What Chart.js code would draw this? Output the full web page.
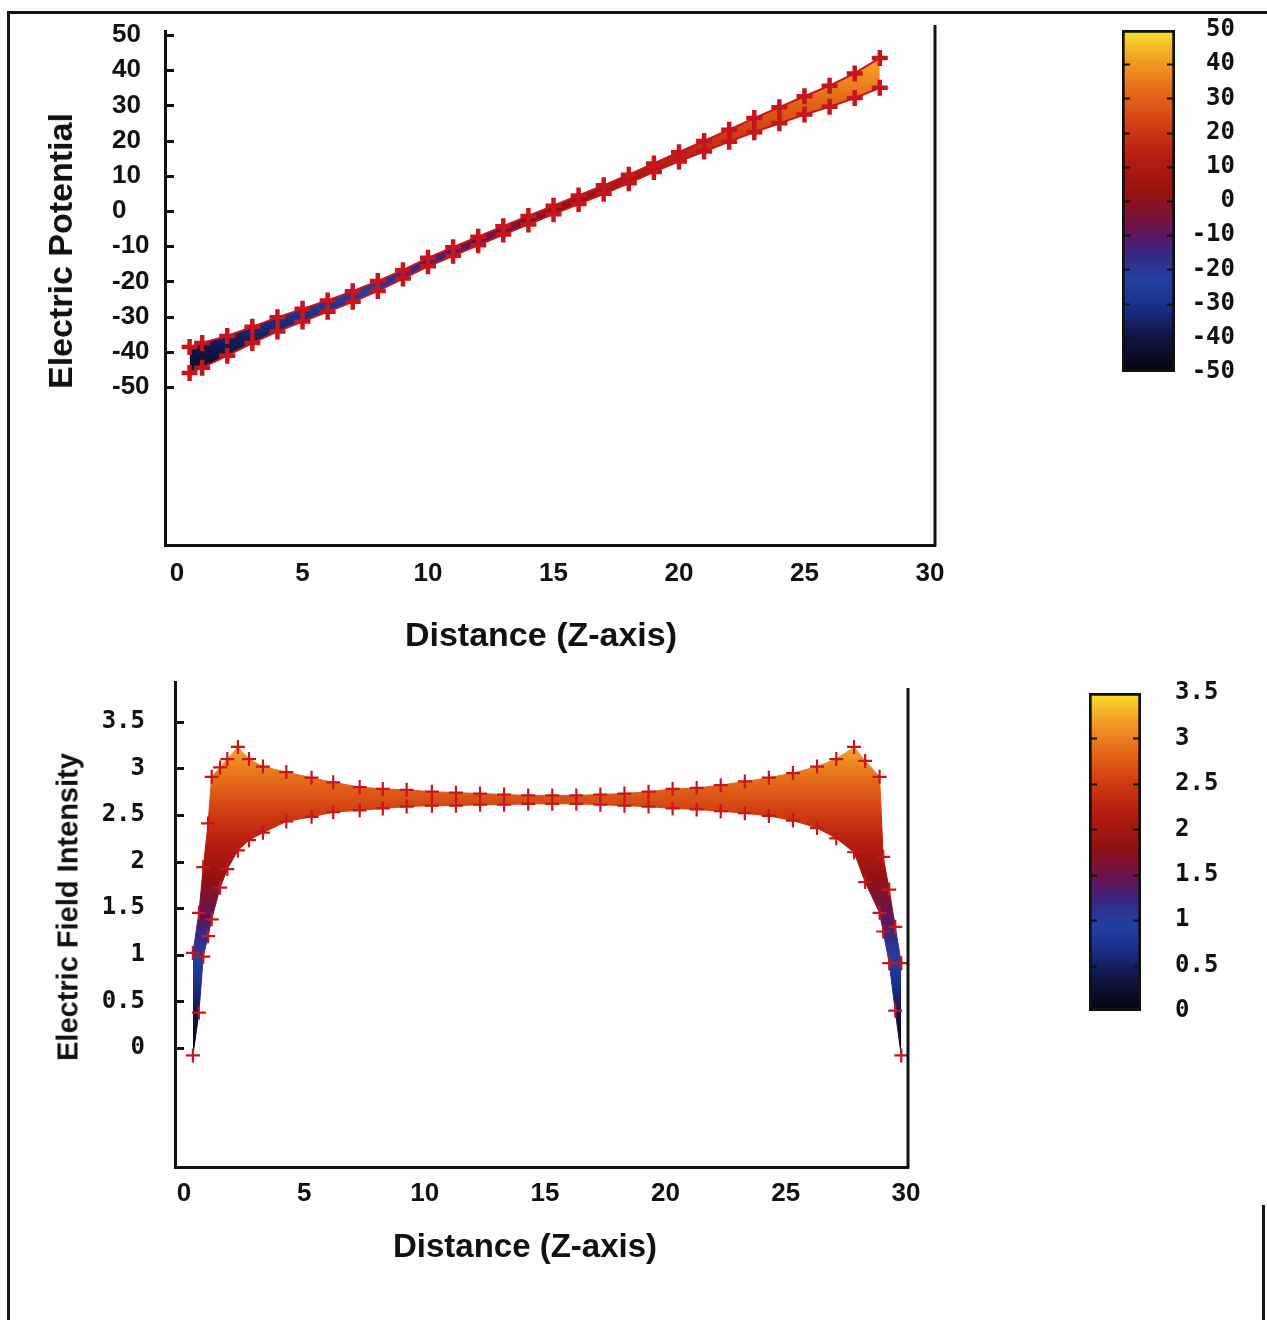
<!DOCTYPE html>
<html>
<head>
<meta charset="utf-8">
<title>Electric potential and field intensity along the Z-axis</title>
<script src="https://cdn.jsdelivr.net/npm/chart.js@4.4.0/dist/chart.umd.min.js"></script>
<style>
  body { margin: 0; background: #fff; }
  #page { position: relative; width: 1267px; height: 1320px; overflow: hidden; background: #fefefe; }
  #page canvas { position: absolute; }
  .frame { position: absolute; left: 7px; top: 11px; width: 1258px; height: 1320px;
           border-left: 3px solid #151515; border-top: 3px solid #151515; }
  .edge { position: absolute; left: 1262px; top: 1205px; width: 3px; height: 115px; background: #151515; }
  .ttl { position: absolute; font-family: "Liberation Sans", Arial, sans-serif; font-weight: bold;
         color: #111; white-space: nowrap; line-height: 1; transform: translate(-50%, -50%); }
  .ttl.rot { transform: translate(-50%, -50%) rotate(-90deg); }
</style>
</head>
<body>
<div id="page">
  <div class="frame"></div>
  <div class="edge"></div>

  <canvas id="potChart" width="960" height="680" style="left:0;top:0"></canvas>
  <canvas id="potBar" width="157" height="410" style="left:1110px;top:0"></canvas>
  <canvas id="fieldChart" width="960" height="680" style="left:0;top:640px"></canvas>
  <canvas id="fieldBar" width="197" height="420" style="left:1070px;top:640px"></canvas>

  <div class="ttl rot" style="left:60px;top:251px;font-size:34px">Electric Potential</div>
  <div class="ttl" style="left:541px;top:634px;font-size:34px">Distance (Z-axis)</div>
  <div class="ttl rot" style="left:68px;top:907px;font-size:29px">Electric Field Intensity</div>
  <div class="ttl" style="left:525px;top:1245px;font-size:33px">Distance (Z-axis)</div>
</div>

<script>
// tick labels
const distTicks = [0, 5, 10, 15, 20, 25, 30];
const potTicks = [-50, -40, -30, -20, -10, 0, 10, 20, 30, 40, 50];
const fieldTicks = [0, 0.5, 1, 1.5, 2, 2.5, 3, 3.5];

// electric potential band (upper / lower edge) along z
const zPot = [0.5, 1, 2, 3, 4, 5, 6, 7, 8, 9, 10, 11, 12, 13, 14, 15, 16, 17, 18, 19, 20, 21, 22, 23, 24, 25, 26, 27, 28];
const potUpper = [-38.6, -37.5, -35.5, -32.9, -30.2, -27.8, -25.4, -22.8, -19.9, -16.8, -13.3, -10.3, -7.3, -4.3, -1.4,
                  1.5, 4.4, 7.3, 10.3, 13.5, 16.7, 19.9, 23.1, 26.4, 29.5, 32.6, 35.6, 39.1, 43.5];
const potLower = [-46, -44.5, -41.1, -37.5, -34.2, -31.4, -28.6, -25.8, -22.7, -19.2, -15.7, -12.7, -9.7, -6.7, -3.8,
                  -0.9, 2.0, 4.9, 7.9, 11.1, 14.1, 16.9, 19.7, 22.4, 24.9, 27.4, 29.6, 32.1, 35.0];

// electric field intensity band (upper / lower edge) along z
const zField = [0.37, 0.62, 0.8, 1.0, 1.15, 1.5, 1.8, 2.24, 2.7, 3.28, 4.25, 5.3, 6.2, 7.3, 8.26, 9.25, 10.3,
                11.3, 12.3, 13.3, 14.3, 15.3, 16.3, 17.3, 18.3, 19.3, 20.3, 21.3, 22.3, 23.3, 24.3, 25.3, 26.3,
                27.1, 27.84, 28.3, 28.9, 29.05, 29.3, 29.55, 29.8];
const fieldUpper = [1.02, 1.45, 1.94, 2.41, 2.91, 3.01, 3.1, 3.23, 3.1, 3.02, 2.96, 2.9, 2.85, 2.8, 2.78, 2.77, 2.75,
                    2.74, 2.73, 2.72, 2.71, 2.71, 2.71, 2.72, 2.73, 2.75, 2.78, 2.79, 2.82, 2.86, 2.9, 2.95, 3.02,
                    3.1, 3.23, 3.08, 2.91, 2.05, 1.7, 1.3, 0.91];
const fieldLower = [-0.08, 0.38, 0.98, 1.2, 1.38, 1.72, 1.92, 2.12, 2.23, 2.31, 2.43, 2.48, 2.53, 2.55, 2.57, 2.59, 2.6,
                    2.6, 2.61, 2.61, 2.62, 2.62, 2.62, 2.61, 2.6, 2.59, 2.57, 2.56, 2.54, 2.52, 2.49, 2.44, 2.36,
                    2.25, 2.1, 1.78, 1.45, 1.25, 0.91, 0.4, -0.08];

// colour ranges of the two palette bars
const potRange = [-50, 50];
const fieldRange = [0, 3.5];

// palette, bottom (0) to top (1)
const paletteStops = [
  [0.00, '#07040b'], [0.10, '#0f1444'], [0.20, '#1b308c'], [0.27, '#2140a2'], [0.34, '#352a86'],
  [0.40, '#5c165c'], [0.46, '#7c1234'], [0.52, '#931210'], [0.62, '#b31c10'], [0.72, '#d03c12'],
  [0.82, '#e66a1a'], [0.91, '#f29c24'], [1.00, '#f8e02c']
];

const ink = '#111';
const markRed = '#c4161c';
const sansTick = { family: '"Liberation Sans", Arial, sans-serif', size: 26, weight: 'bold' };
const monoTick = { family: '"DejaVu Sans Mono", monospace', size: 24, weight: 'bold' };

function toPoints(xs, ys) {
  return xs.map((x, i) => ({ x: x, y: ys[i] }));
}

// vertical gradient that follows the y scale, so colour = value
function paletteFill(range) {
  return function (ctx) {
    const chart = ctx.chart;
    const y = chart.scales.y;
    if (!chart.chartArea || !y) return '#d03c12';
    const g = chart.ctx.createLinearGradient(0, y.getPixelForValue(range[0]), 0, y.getPixelForValue(range[1]));
    paletteStops.forEach(s => g.addColorStop(s[0], s[1]));
    return g;
  };
}

// inward tick marks and the right frame line
const frameTicks = {
  id: 'frameTicks',
  afterDraw(chart, args, opts) {
    const { ctx, chartArea: a } = chart;
    const y = chart.scales.y;
    ctx.save();
    ctx.strokeStyle = ink;
    ctx.lineWidth = opts.width;
    ctx.beginPath();
    y.ticks.forEach(t => {
      if (opts.skipEnds && (t.value === y.min || t.value === y.max)) return;
      const py = Math.round(y.getPixelForValue(t.value)) + 0.5;
      if (opts.left) { ctx.moveTo(a.left, py); ctx.lineTo(a.left + opts.len, py); }
      if (opts.right) { ctx.moveTo(a.right, py); ctx.lineTo(a.right - opts.len, py); }
    });
    if (opts.rightBorder != null) {
      ctx.moveTo(a.right, a.top + opts.rightBorder);
      ctx.lineTo(a.right, a.bottom + 1.5);
    }
    ctx.stroke();
    ctx.restore();
  }
};

const quiet = { legend: { display: false }, tooltip: { enabled: false } };

function edgeSet(label, xs, ys, extra) {
  return Object.assign({
    label: label,
    data: toPoints(xs, ys),
    tension: 0,
    pointStyle: 'cross',
    pointRadius: 7,
    pointBorderColor: markRed,
    pointBackgroundColor: markRed
  }, extra);
}

// ---- top: electric potential ----
new Chart(document.getElementById('potChart'), {
  type: 'line',
  data: {
    datasets: [
      edgeSet('upper', zPot, potUpper, { borderColor: markRed, borderWidth: 2, pointRadius: 8, pointBorderWidth: 4.5, fill: false }),
      edgeSet('lower', zPot, potLower, { borderColor: markRed, borderWidth: 2, pointRadius: 8, pointBorderWidth: 4.5,
                                         fill: '-1', backgroundColor: paletteFill(potRange) })
    ]
  },
  options: {
    responsive: false,
    animation: false,
    events: [],
    layout: { padding: { top: 31, right: 25, bottom: 0, left: 112 } },
    plugins: Object.assign({ frameTicks: { left: true, len: 9, width: 3, rightBorder: -6 } }, quiet),
    scales: {
      x: {
        type: 'linear', min: -0.48, max: 30.2,
        grid: { display: false },
        border: { color: ink, width: 3 },
        ticks: { font: sansTick, color: ink, padding: 5, maxRotation: 0, callback: v => String(v) },
        afterBuildTicks: s => { s.ticks = distTicks.map(v => ({ value: v })); },
        afterFit: s => { s.height = 135; }
      },
      y: {
        type: 'linear', min: -94.88, max: 51.14,
        grid: { display: false },
        border: { color: ink, width: 3 },
        ticks: { font: sansTick, color: ink, padding: 15, crossAlign: 'far', callback: v => String(v) },
        afterBuildTicks: s => { s.ticks = potTicks.map(v => ({ value: v })); },
        afterFit: s => { s.width = 53; }
      }
    }
  },
  plugins: [frameTicks]
});

// ---- bottom: electric field intensity ----
new Chart(document.getElementById('fieldChart'), {
  type: 'line',
  data: {
    datasets: [
      edgeSet('upper', zField, fieldUpper, { borderColor: paletteFill(fieldRange), borderWidth: 1, pointBorderWidth: 2.2, fill: false }),
      edgeSet('lower', zField, fieldLower, { borderColor: paletteFill(fieldRange), borderWidth: 1, pointBorderWidth: 2.2,
                                             fill: '-1', backgroundColor: paletteFill(fieldRange) })
    ]
  },
  options: {
    responsive: false,
    animation: false,
    events: [],
    layout: { padding: { top: 42, right: 52, bottom: 0, left: 0 } },
    plugins: Object.assign({ frameTicks: { left: true, len: 9, width: 3, rightBorder: 6 } }, quiet),
    scales: {
      x: {
        type: 'linear', min: -0.374, max: 30.08,
        grid: { display: false },
        border: { color: ink, width: 3 },
        ticks: { font: sansTick, color: ink, padding: 3, maxRotation: 0, callback: v => String(v) },
        afterBuildTicks: s => { s.ticks = distTicks.map(v => ({ value: v })); },
        afterFit: s => { s.height = 153; }
      },
      y: {
        type: 'linear', min: -1.277, max: 3.927,
        grid: { display: false },
        border: { color: ink, width: 3 },
        ticks: { font: monoTick, color: ink, padding: 22, callback: v => String(v) },
        afterBuildTicks: s => { s.ticks = fieldTicks.map(v => ({ value: v })); },
        afterFit: s => { s.width = 175; }
      }
    }
  },
  plugins: [frameTicks]
});

// ---- palette bars ----
function paletteBar(id, range, ticks, pad, axisWidth, labelPad, crossAlign) {
  return new Chart(document.getElementById(id), {
    type: 'bar',
    data: {
      labels: [''],
      datasets: [{
        data: [range],
        backgroundColor: paletteFill(range),
        borderColor: ink,
        borderWidth: 3,
        borderSkipped: false,
        barPercentage: 1,
        categoryPercentage: 1
      }]
    },
    options: {
      responsive: false,
      animation: false,
      events: [],
      layout: { padding: pad },
      plugins: Object.assign({ frameTicks: { left: true, right: true, skipEnds: true, len: 8, width: 2 } }, quiet),
      scales: {
        x: { display: false },
        y: {
          position: 'right', min: range[0], max: range[1],
          grid: { display: false },
          border: { display: false },
          ticks: { font: monoTick, color: ink, padding: labelPad, crossAlign: crossAlign, callback: v => String(v) },
          afterBuildTicks: s => { s.ticks = ticks.map(v => ({ value: v })); },
          afterFit: s => { s.width = axisWidth; }
        }
      }
    },
    plugins: [frameTicks]
  });
}

paletteBar('potBar', potRange, potTicks, { top: 30, bottom: 38, left: 12, right: 32 }, 60, 15, 'far');
paletteBar('fieldBar', fieldRange, fieldTicks, { top: 53, bottom: 49, left: 19, right: 0 }, 126, 26, 'near');
</script>
</body>
</html>
